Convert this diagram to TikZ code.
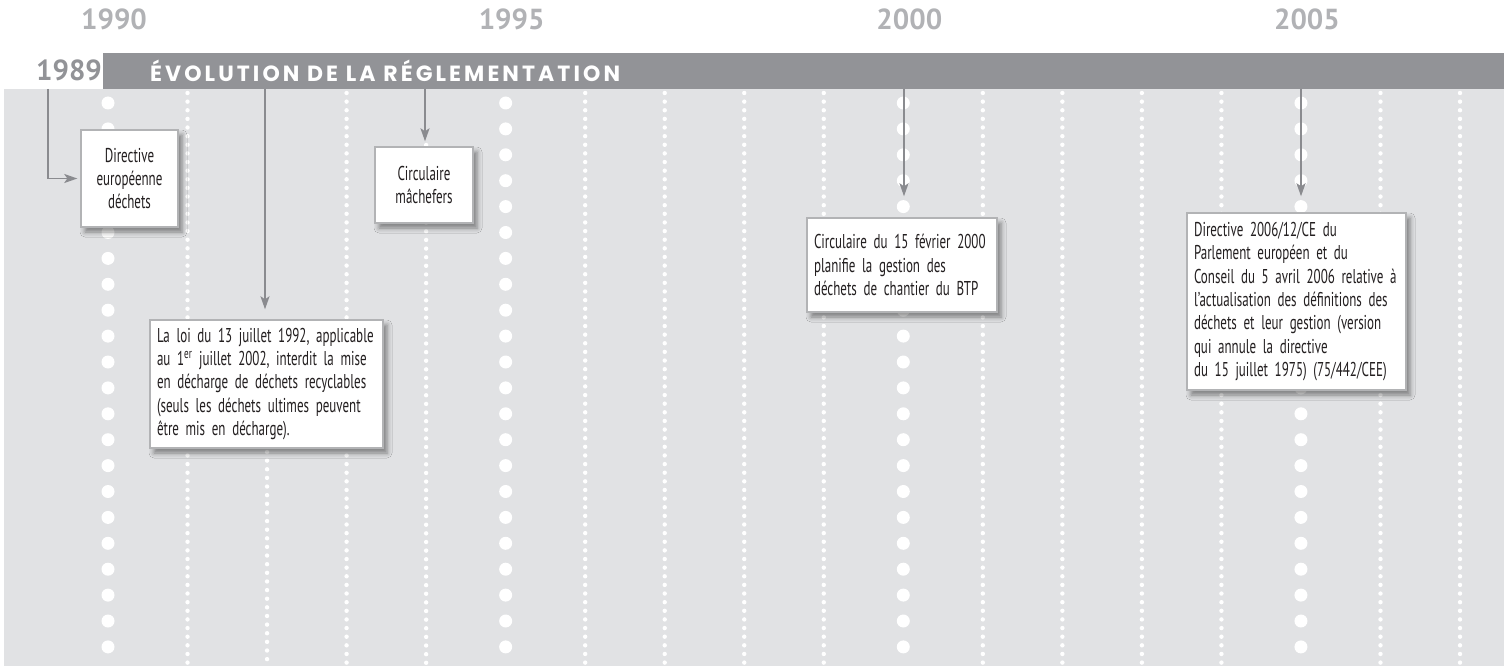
\documentclass[tikz,border=0pt]{standalone}
\usepackage{fontspec}
\setmainfont{PT Sans}
\newfontfamily\boxfont{PT Sans}[FakeStretch=0.65, WordSpace=0.55]
\newfontfamily\yearfont{PT Sans}
\newfontfamily\headfont{Poppins}[LetterSpace=14]
\usetikzlibrary{positioning}
\usetikzlibrary{arrows.meta}
\usetikzlibrary{shadows.blur}

\definecolor{bandgray}{RGB}{146,147,151}
\definecolor{panelgray}{RGB}{225,226,228}
\definecolor{yeargray}{RGB}{177,178,181}
\definecolor{arrowgray}{RGB}{138,139,143}
\definecolor{boxline}{RGB}{178,179,181}
\definecolor{inkblack}{RGB}{35,31,32}

\begin{document}
\begin{tikzpicture}[x=1pt, y=-1pt,
            year/.style = {font=\yearfont\bfseries\fontsize{29}{29}\selectfont,
                text=yeargray, inner sep=0pt},
            event/.style = {draw=boxline, line width=1.4pt, fill=white,
                font=\boxfont\fontsize{20}{23.3}\selectfont, text=inkblack,
                inner xsep=7pt, inner ysep=0pt,
                blur shadow={shadow xshift=4pt, shadow yshift=-5pt,
                    shadow blur radius=5pt, shadow opacity=45}},
            midbox/.style = {event, align=center},
            leftbox/.style = {event, align=left},
            tick/.style = {white, line cap=round, line width=4.4pt,
                dash pattern=on 0pt off 8.63pt},
            bigtick/.style = {white, line cap=round, line width=13pt,
                dash pattern=on 0pt off 25.9pt},
            link/.style = {arrowgray, line width=1.8pt,
                -{Stealth[length=13pt, width=9pt, inset=3pt]}}]
            \useasboundingbox (0,0) rectangle (1504,666);
            % fond et bandeau
            \fill[panelgray] (4,89) rectangle (1504,666);
            \fill[bandgray] (103,53) rectangle (1504,89);
            \node[anchor=west, text=white, inner sep=0pt,
                font=\headfont\bfseries\fontsize{22}{22}\selectfont]
                (titre) at (150,71) {ÉVOLUTION DE LA RÉGLEMENTATION};
            \node[year, text=bandgray] (a1989) at (69,70) {1989};
            \foreach \an in {1990,1995,2000,2005}
                \node[year] (a\an) at ({114+79.53*(\an-1990)},19) {\an};
            % pointilles
            \foreach \an/\debut in {1991/93,1992/452,1993/93,1994/145,
                    1996/93,1997/93,1998/93,1999/93,
                    2001/93,2002/93,2003/93,2004/93,2006/93,2007/93}
                \draw[tick] ({108+79.53*(\an-1990)},\debut)
                    -- ({108+79.53*(\an-1990)},666);
            \foreach \an in {1990,1995,2000,2005}
                \draw[bigtick] ({108+79.53*(\an-1990)},103)
                    -- ({108+79.53*(\an-1990)},666);
            % evenements
            \node[midbox, minimum width=97pt, minimum height=97pt, text width=83pt]
                (dir75) at (129.5,178.5) {Directive\\européenne\\déchets};
            \node[midbox, minimum width=98pt, minimum height=76pt, text width=84pt]
                (mach) at (424,185) {Circulaire\\mâchefers};
            \node[leftbox, minimum width=233pt, minimum height=128pt, text width=219pt]
                (loi92) at (266.5,384) {La loi du 13 juillet 1992, applicable\\
                au 1\textsuperscript{er} juillet 2002, interdit la mise\\
                en décharge de déchets recyclables\\
                (seuls les déchets ultimes peuvent\\
                être mis en décharge).};
            \node[leftbox, minimum width=190pt, minimum height=94pt, text width=176pt]
                (circ00) at (902,265) {Circulaire du 15 février 2000\\
                planifie la gestion des\\
                déchets de chantier du BTP};
            \node[leftbox, minimum width=219pt, minimum height=177pt, text width=205pt]
                (dir06) at (1296.5,301.5) {Directive 2006/12/CE du\\
                Parlement européen et du\\
                Conseil du 5 avril 2006 relative à\\
                l’actualisation des définitions des\\
                déchets et leur gestion (version\\
                qui annule la directive\\
                du 15 juillet 1975) (75/442/CEE)};
            % fleches
            \coordinate (t1989) at (48,89);
            \coordinate (t1992) at (265,89);
            \coordinate (t1994) at (425,89);
            \coordinate (t2000) at (904,89);
            \coordinate (t2005) at (1301,89);
            \draw[link, shorten >=3pt] (t1989) |- (dir75.west);
            \draw[link, shorten >=10pt] (t1992) -- (t1992 |- loi92.north);
            \draw[link, shorten >=5pt] (t1994) -- (t1994 |- mach.north);
            \draw[link, shorten >=21pt] (t2000) -- (t2000 |- circ00.north);
            \draw[link, shorten >=16pt] (t2005) -- (t2005 |- dir06.north);
        \end{tikzpicture}
\end{document}
